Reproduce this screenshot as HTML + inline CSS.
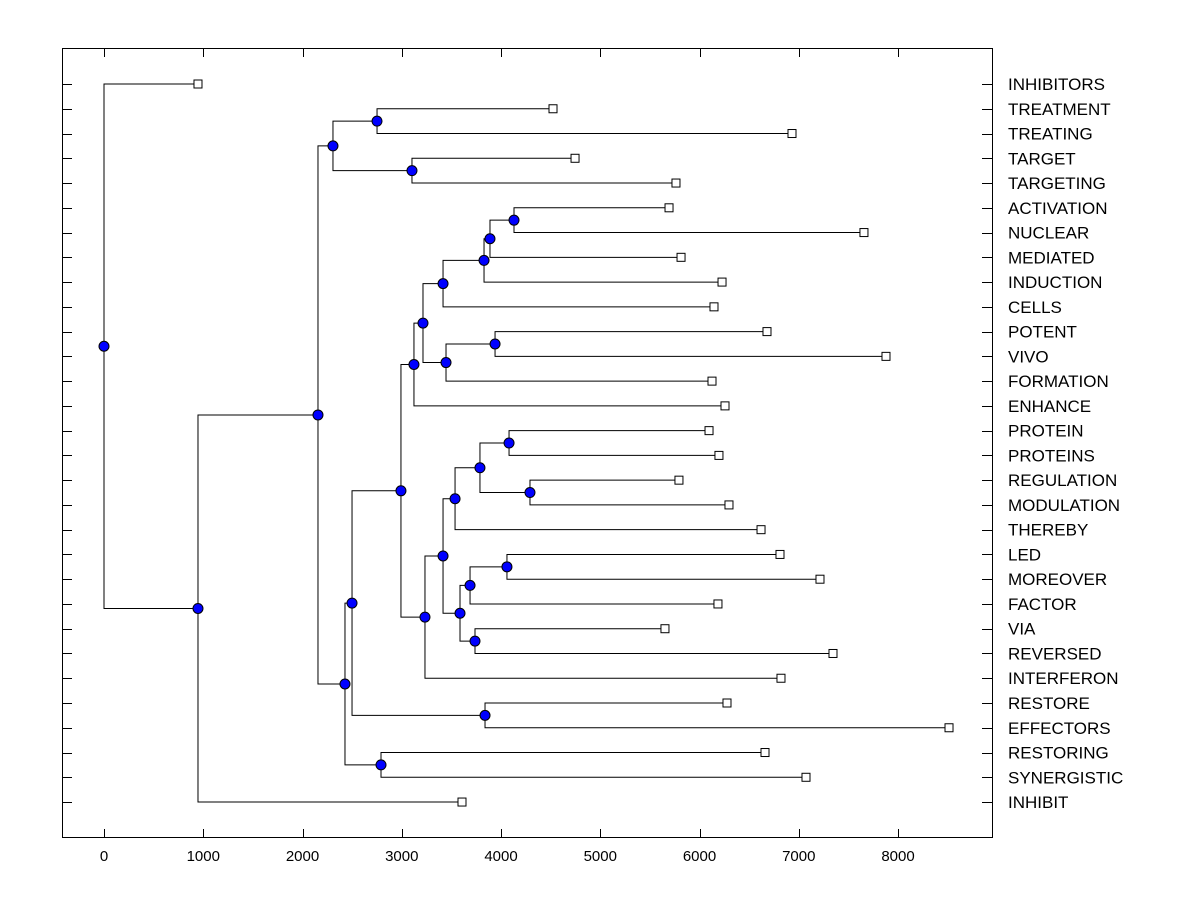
<!DOCTYPE html>
<html><head><meta charset="utf-8"><style>
body{margin:0;background:#fff;}
svg{display:block;font-family:"Liberation Sans",Arial,sans-serif;}
</style></head><body>
<svg id="chart" width="1200" height="900" xmlns="http://www.w3.org/2000/svg">
<rect x="62.5" y="48.5" width="930" height="789" fill="none" stroke="#000" stroke-width="1"/>
<g id="axes"></g><g id="links"></g><g id="marks"></g>
</svg>
<script>
const leaves = ["INHIBITORS","TREATMENT","TREATING","TARGET","TARGETING","ACTIVATION","NUCLEAR","MEDIATED","INDUCTION","CELLS","POTENT","VIVO","FORMATION","ENHANCE","PROTEIN","PROTEINS","REGULATION","MODULATION","THEREBY","LED","MOREOVER","FACTOR","VIA","REVERSED","INTERFERON","RESTORE","EFFECTORS","RESTORING","SYNERGISTIC","INHIBIT"];
const leafValues = [947,4524,6932,4746,5763,5693,7657,5814,6227,6146,6680,7879,6126,6257,6096,6196,5793,6297,6620,6811,7214,6186,5652,7345,6821,6277,8514,6660,7073,3607];
// merges: [childA, childB, height]; leaves referenced by name, internal nodes by "n#"
const merges = [
 ["TREATMENT","TREATING",2751],["TARGET","TARGETING",3103],["n0","n1",2307],
 ["ACTIVATION","NUCLEAR",4131],["n3","MEDIATED",3889],["n4","INDUCTION",3829],["n5","CELLS",3416],
 ["POTENT","VIVO",3940],["n7","FORMATION",3446],["n6","n8",3214],["n9","ENHANCE",3123],
 ["PROTEIN","PROTEINS",4081],["REGULATION","MODULATION",4292],["n11","n12",3788],["n13","THEREBY",3537],
 ["LED","MOREOVER",4060],["n15","FACTOR",3688],["VIA","REVERSED",3738],["n16","n17",3587],
 ["n14","n18",3416],["n19","INTERFERON",3234],["n10","n20",2992],["RESTORE","EFFECTORS",3839],
 ["n21","n22",2499],["RESTORING","SYNERGISTIC",2791],["n23","n24",2428],["n2","n25",2156],
 ["n26","INHIBIT",947],["INHIBITORS","n27",0]
];
const xTicks = [0,1000,2000,3000,4000,5000,6000,7000,8000];
const NS="http://www.w3.org/2000/svg";
const xs = v => 104 + v*0.09925;
const ys = i => 84 + i*24.76;
function el(tag, attrs, parent){const e=document.createElementNS(NS,tag);for(const k in attrs)e.setAttribute(k,attrs[k]);parent.appendChild(e);return e;}
const axes=document.getElementById('axes'), links=document.getElementById('links'), marks=document.getElementById('marks');
xTicks.forEach(t=>{
  const x=Math.round(xs(t))+0.5;
  const a=el('line',{x1:x,x2:x,y1:49,y2:57,stroke:'#000'},axes);
  
  
  const b=el('line',{x1:x,x2:x,y1:829,y2:837,stroke:'#000'},axes);
  
  
  const tx=el('text',{x:xs(t),y:861,'text-anchor':'middle','font-size':'15'},axes);
  tx.textContent=t;
  
  
});
const pos={};
leaves.forEach((n,i)=>{
  const y=Math.round(ys(i))+0.5;
  pos[n]={x:xs(leafValues[i]),y:ys(i),leaf:true};
  const l=el('line',{x1:62,x2:72,y1:y,y2:y,stroke:'#000'},axes);
  
  
  const r=el('line',{x1:982,x2:992,y1:y,y2:y,stroke:'#000'},axes);
  
  
  const t=el('text',{x:1008,y:ys(i)+6,'font-size':'17'},axes);
  t.textContent=n;
  
  
});
merges.forEach((m,k)=>{
  const a=pos[m[0]], b=pos[m[1]], x=xs(m[2]), y=(a.y+b.y)/2;
  pos['n'+k]={x:x,y:y};
  const p=el('path',{d:`M${a.x},${a.y}H${x}V${b.y}H${b.x}`,fill:'none',stroke:'#000','stroke-width':1},links);
  
  
  const c=el('circle',{cx:x,cy:y,r:5,fill:'#0000ff',stroke:'#000','stroke-width':1},marks);
  
  
});
leaves.forEach(n=>{
  const p=pos[n];
  const s=el('rect',{x:p.x-4,y:p.y-4,width:8,height:8,fill:'#fff',stroke:'#000'},marks);
  
  
});
</script>
</body></html>
